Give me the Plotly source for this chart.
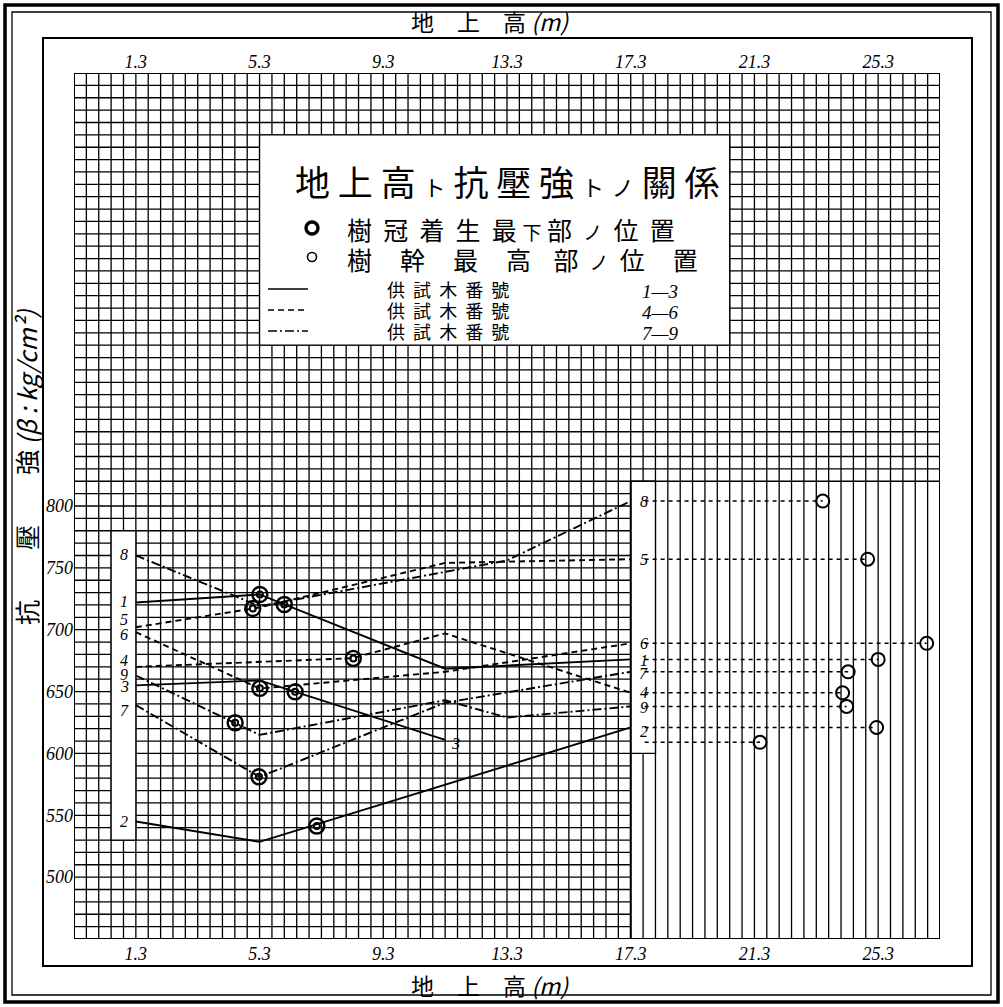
import plotly.graph_objects as go

# ---------------- data ----------------
x_ticks = [1.3, 5.3, 9.3, 13.3, 17.3, 21.3, 25.3]
y_ticks = [500, 550, 600, 650, 700, 750, 800]

# compression strength along the stem (height m, kg/cm2) per test tree
h1 = [1.3, 5.3, 11.3, 17.3];        s1 = [722, 728.5, 668.5, 676]
h2 = [1.3, 5.3, 17.3];              s2 = [545, 528.5, 621]
h3 = [1.3, 5.3, 11.3];              s3 = [655, 659, 611]
h4 = [1.3, 8.3, 11.3, 17.3];        s4 = [670, 677, 697, 649]
h5 = [1.3, 5.3, 11.3, 17.3];        s5 = [702, 718, 754, 757]
h6 = [1.3, 5.3, 11.3, 17.3];        s6 = [698, 652.5, 666, 689]
h7 = [1.3, 5.3, 11.3, 17.3];        s7 = [639, 581, 641, 666]
h8 = [1.3, 5.3, 13.3, 17.3];        s8 = [760, 719, 756, 804]
h9 = [1.3, 5.3, 11.3, 13.3, 17.3];  s9 = [663, 615, 643, 629, 638]

tree_ids = ["1", "2", "3", "4", "5", "6", "7", "8", "9"]
# lowest crown position (◎)
crown_h = [5.31, 7.15, 6.45, 8.33, 5.08, 5.31, 5.28, 6.10, 4.51]
crown_s = [728.5, 541.3, 649.8, 676.8, 717.2, 652.6, 581.1, 720.4, 624.8]
# top of stem (○)
top_h = [25.3, 25.25, 21.48, 24.15, 24.96, 26.87, 24.33, 23.51, 24.28]
top_s = [676, 621, 609, 649, 757, 689, 666, 804, 638]

# ---------------- layout geometry ----------------
W, H = 1003, 1007
L, R, T, B = 74, 63, 73, 68
XR = [-0.7, 27.3]
YR = [450, 1150]
PW, PH = W - L - R, H - T - B


def dx(px):
    return XR[0] + (px - L) / PW * (XR[1] - XR[0])


def dy(py):
    return YR[0] + (H - B - py) / PH * (YR[1] - YR[0])


def px_(px):
    return (px - L) / PW


def py_(py):
    return (H - B - py) / PH


series = [(h1, s1), (h2, s2), (h3, s3), (h4, s4), (h5, s5),
          (h6, s6), (h7, s7), (h8, s8), (h9, s9)]
dashes = ["solid"] * 3 + ["6px,4px"] * 3 + ["9px,3px,2px,3px"] * 3

fig = go.Figure()

# ---------------- grid (shapes, below traces) ----------------
shapes = []
gl = dict(color="black", width=1.3)
for k in range(71):
    xv = XR[0] + 0.4 * k
    shapes.append(dict(type="line", xref="x", yref="y", x0=xv, x1=xv,
                       y0=YR[0], y1=YR[1], line=gl, layer="below"))
for k in range(71):
    yv = YR[0] + 10 * k
    xend = XR[1] if yv >= 820 else 17.3
    shapes.append(dict(type="line", xref="x", yref="y", x0=XR[0], x1=xend,
                       y0=yv, y1=yv, line=gl, layer="below"))
# white label strips and legend box
for (xa, xb, ya, yb) in [(0.5, 1.3, 530, 780), (17.3, 18.1, 600, 820),
                         (5.3, 20.5, 930, 1100)]:
    shapes.append(dict(type="rect", xref="x", yref="y", x0=xa, x1=xb,
                       y0=ya, y1=yb, fillcolor="white",
                       line=dict(color="black", width=1.3), layer="below"))
# thick boundary lines
shapes.append(dict(type="line", xref="x", yref="y", x0=17.3, x1=17.3,
                   y0=YR[0], y1=820, line=dict(color="black", width=2),
                   layer="below"))
shapes.append(dict(type="rect", xref="x", yref="y", x0=XR[0], x1=XR[1],
                   y0=YR[0], y1=YR[1], line=dict(color="black", width=2),
                   layer="below"))
# frames
shapes.append(dict(type="rect", xref="paper", yref="paper",
                   x0=px_(43), x1=px_(972), y0=py_(966), y1=py_(38),
                   line=dict(color="black", width=2)))
shapes.append(dict(type="rect", xref="paper", yref="paper",
                   x0=px_(5), x1=px_(998), y0=py_(1002), y1=py_(5),
                   line=dict(color="black", width=3.5)))
shapes.append(dict(type="rect", xref="paper", yref="paper",
                   x0=px_(12), x1=px_(991), y0=py_(995), y1=py_(12),
                   line=dict(color="black", width=1.3)))

# ---------------- data traces ----------------
for (hx, sy), d in zip(series, dashes):
    fig.add_trace(go.Scatter(x=hx, y=sy, mode="lines",
                             line=dict(color="black", width=1.9, dash=d),
                             hoverinfo="skip", showlegend=False))

# dotted lines from label strip to stem top circles
for i in range(len(tree_ids)):
    fig.add_trace(go.Scatter(x=[17.75, top_h[i]], y=[top_s[i], top_s[i]],
                             mode="lines",
                             line=dict(color="black", width=1.5,
                                       dash="4px,4px"),
                             hoverinfo="skip", showlegend=False))

# crown markers ◎
fig.add_trace(go.Scatter(x=crown_h, y=crown_s, mode="markers",
                         marker=dict(symbol="circle-open", size=15,
                                     color="black", line=dict(width=2.4)),
                         showlegend=False, hoverinfo="skip"))
fig.add_trace(go.Scatter(x=crown_h, y=crown_s, mode="markers",
                         marker=dict(symbol="circle-open", size=6,
                                     color="black", line=dict(width=2)),
                         showlegend=False, hoverinfo="skip"))
# top-of-stem markers ○
fig.add_trace(go.Scatter(x=top_h, y=top_s, mode="markers",
                         marker=dict(symbol="circle-open", size=13,
                                     color="black", line=dict(width=2)),
                         showlegend=False, hoverinfo="skip"))

# legend samples inside the box
fig.add_trace(go.Scatter(x=[dx(312)], y=[dy(228)], mode="markers",
                         marker=dict(symbol="circle-open", size=12,
                                     color="black", line=dict(width=3.4)),
                         showlegend=False, hoverinfo="skip"))
fig.add_trace(go.Scatter(x=[dx(312)], y=[dy(257)], mode="markers",
                         marker=dict(symbol="circle-open", size=9,
                                     color="black", line=dict(width=1.6)),
                         showlegend=False, hoverinfo="skip"))
row_y = [289, 310, 331]
for d, yy in zip(["solid", "6px,4px", "9px,3px,2px,3px"], row_y):
    fig.add_trace(go.Scatter(x=[dx(268), dx(308)], y=[dy(yy), dy(yy)],
                             mode="lines",
                             line=dict(color="black", width=1.7, dash=d),
                             showlegend=False, hoverinfo="skip"))

# invisible trace for top axis
fig.add_trace(go.Scatter(x=XR, y=YR, xaxis="x2", mode="markers",
                         marker=dict(opacity=0), showlegend=False,
                         hoverinfo="skip"))

# ---------------- annotations ----------------
num_font = dict(family="Liberation Serif", size=16, color="black",
                style="italic")
cjk = "Noto Sans CJK JP"
ann = []
left_nudge = {"8": 1, "1": 1, "5": 6, "6": -2, "4": 5, "9": 1, "3": -1,
              "7": -4, "2": 0}
right_nudge = {"1": -1, "2": -3, "9": -1, "7": -1}
for i, t in enumerate(tree_ids):
    sx, sy = series[i]
    ann.append(dict(x=0.92, y=sy[0] + left_nudge.get(t, 0), xref="x",
                    yref="y", text=t, showarrow=False, font=num_font,
                    yanchor="middle"))
    if t != "3":
        ann.append(dict(x=17.72, y=top_s[i] + right_nudge.get(t, 0),
                        xref="x", yref="y", text=t, showarrow=False,
                        font=num_font, yanchor="middle"))
ann.append(dict(x=h3[-1] + 0.35, y=s3[-1] - 3, xref="x", yref="y",
                text="3", showarrow=False, font=num_font, yanchor="middle"))

# legend texts
small = "<span style='font-size:22px'>{}</span>"
title_txt = ("地 上 高 " + small.format("ト") + " 抗 壓 強 " + small.format("ト")
             + " " + small.format("ノ") + " 關 係")
ann.append(dict(x=dx(507), y=dy(180), xref="x", yref="y", text=title_txt,
                showarrow=False, yanchor="middle",
                font=dict(family=cjk, size=35, color="black")))
sm2 = "<span style='font-size:19px'>{}</span>"
ann.append(dict(x=dx(345), y=dy(229), xref="x", yref="y", xanchor="left",
                yanchor="middle",
                text="樹  冠  着  生  最 " + sm2.format("下") + " 部  "
                + sm2.format("ノ") + "  位  置",
                showarrow=False, font=dict(family=cjk, size=25,
                                           color="black")))
ann.append(dict(x=dx(345), y=dy(259), xref="x", yref="y", xanchor="left",
                yanchor="middle",
                text="樹     幹     最     高    部  " + sm2.format("ノ")
                + "  位     置",
                showarrow=False, font=dict(family=cjk, size=25,
                                           color="black")))
for yy, rng in zip(row_y, ["1—3", "4—6", "7—9"]):
    ann.append(dict(x=dx(385), y=dy(yy), xref="x", yref="y", xanchor="left",
                    yanchor="middle", text="供  試  木  番  號",
                    showarrow=False,
                    font=dict(family=cjk, size=18, color="black")))
    ann.append(dict(x=dx(640), y=dy(yy + 2), xref="x", yref="y",
                    xanchor="left", yanchor="middle", text=rng,
                    showarrow=False,
                    font=dict(family="Liberation Serif", size=19,
                              color="black", style="italic")))

# axis titles
ttl = "地　上　高 <i>(m)</i>"
for ty in [21, 985]:
    ann.append(dict(x=px_(490), y=py_(ty), xref="paper", yref="paper",
                    text=ttl, showarrow=False, xanchor="center",
                    yanchor="middle",
                    font=dict(family=cjk, size=23, color="black")))
ann.append(dict(x=px_(26), y=py_(467), xref="paper", yref="paper",
                text="抗　　壓　　強 <i>(β : kg/cm²)</i>", textangle=-90,
                showarrow=False, xanchor="center", yanchor="middle",
                font=dict(family=cjk, size=25, color="black")))

tick_font = dict(family="Liberation Serif", size=18, color="black",
                 style="italic")
fig.update_layout(
    width=W, height=H,
    margin=dict(l=L, r=R, t=T, b=B, pad=0),
    paper_bgcolor="white", plot_bgcolor="white",
    shapes=shapes, annotations=ann,
    xaxis=dict(range=XR, tickvals=x_ticks, ticktext=[str(v) for v in x_ticks],
               showgrid=False, zeroline=False, showline=False, ticks="",
               tickfont=tick_font, ticklabelstandoff=2),
    xaxis2=dict(range=XR, overlaying="x", side="top", tickvals=x_ticks,
                ticktext=[str(v) for v in x_ticks], showgrid=False,
                zeroline=False, showline=False, ticks="",
                tickfont=tick_font),
    yaxis=dict(range=YR, tickvals=y_ticks,
               ticktext=[str(v) for v in y_ticks], showgrid=False,
               zeroline=False, showline=False, ticks="",
               tickfont=tick_font),
    showlegend=False,
)

fig.write_html("out.html", config={"displayModeBar": False},
               post_script="document.body.style.margin='0';")
